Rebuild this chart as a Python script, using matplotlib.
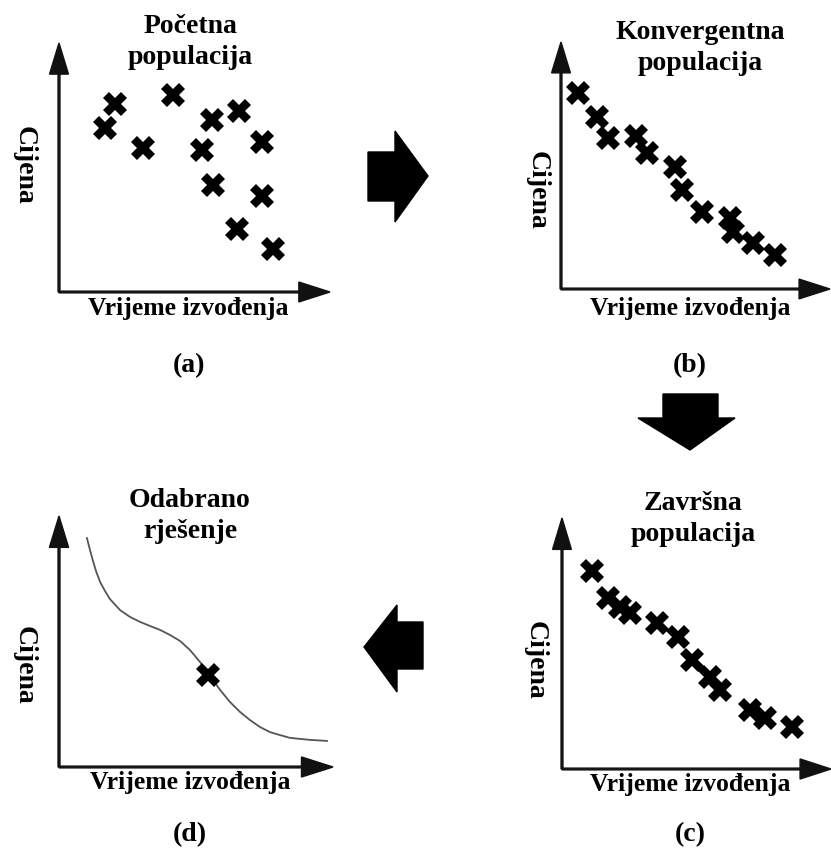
import matplotlib.pyplot as plt
from matplotlib.patches import Polygon

W, H = 831, 850

# (a) initial population
a_x = [2.07, 1.70, 4.21, 3.10, 5.65, 5.28, 5.68, 6.64, 7.49, 7.49, 6.57, 7.90]
a_y = [7.55, 6.59, 7.91, 5.78, 6.91, 5.70, 4.30, 7.27, 6.02, 3.86, 2.53, 1.73]

# (b) converging population
b_x = [0.63, 1.34, 1.75, 2.79, 3.20, 4.24, 4.50, 5.24, 6.28, 6.39, 7.14, 7.96]
b_y = [7.94, 6.96, 6.11, 6.19, 5.51, 4.94, 4.01, 3.12, 2.87, 2.31, 1.86, 1.38]

# (c) final population
c_x = [1.12, 1.71, 2.16, 2.53, 3.53, 4.31, 4.83, 5.50, 5.87, 6.99, 7.55, 8.55]
c_y = [7.89, 6.81, 6.45, 6.22, 5.82, 5.26, 4.34, 3.67, 3.15, 2.35, 2.03, 1.67]

# (d) pareto front and chosen solution
d_curve_x = [1.02, 1.13, 1.24, 1.35, 1.50, 1.68, 1.86, 2.23, 2.59, 2.96,
             3.32, 3.69, 4.05, 4.42, 4.78, 5.15, 5.51, 5.88, 6.24, 6.61,
             6.97, 7.34, 7.70, 8.07, 8.43, 8.80, 9.16, 9.78]
d_curve_y = [9.12, 8.65, 8.21, 7.81, 7.37, 7.01, 6.69, 6.25, 5.98, 5.78,
             5.62, 5.46, 5.26, 5.02, 4.66, 4.18, 3.63, 3.07, 2.59, 2.19,
             1.87, 1.59, 1.39, 1.27, 1.16, 1.12, 1.08, 1.04]
d_x = [5.44]
d_y = [3.67]

titles = ['Početna\npopulacija', 'Konvergentna\npopulacija',
          'Završna\npopulacija', 'Odabrano\nrješenje']
labels = ['(a)', '(b)', '(c)', '(d)']
xlabel = 'Vrijeme izvođenja'
ylabel = 'Cijena'

plt.rcParams['font.family'] = ['Liberation Serif', 'DejaVu Serif']
plt.rcParams['font.weight'] = 'bold'

fig = plt.figure(figsize=(W / 100, H / 100), dpi=100)


def fx(x):
    return x / W


def fy(y):
    return 1 - y / H


def panel(origin, xtip, ytip):
    # axes box in pixel coords: data 0..10 spans the axis arrows
    x0, y0 = origin
    ax = fig.add_axes([fx(x0), fy(y0), (xtip - x0) / W, (y0 - ytip) / H])
    ax.set_xlim(0, 10)
    ax.set_ylim(0, 10)
    ax.axis('off')
    ax.arrow(0, 0, 10, 0, width=0.07, head_width=0.8, head_length=1.15,
             length_includes_head=True, color='#111111', clip_on=False)
    ax.arrow(0, 0, 0, 10, width=0.07, head_width=0.7, head_length=1.25,
             length_includes_head=True, color='#111111', clip_on=False)
    return ax


def texts(title_xy, xl_xy, yl_xy, lab_xy, title, lab):
    fig.text(fx(title_xy[0]), fy(title_xy[1]), title, ha='center',
             va='center', fontsize=20, fontweight='bold', linespacing=1.3)
    fig.text(fx(xl_xy[0]), fy(xl_xy[1]), xlabel, ha='center', va='center',
             fontsize=18.5, fontweight='bold')
    fig.text(fx(yl_xy[0]), fy(yl_xy[1]), ylabel, ha='center', va='center',
             fontsize=20, fontweight='bold', rotation=-90)
    fig.text(fx(lab_xy[0]), fy(lab_xy[1]), lab, ha='center', va='center',
             fontsize=20, fontweight='bold')


mk = dict(marker='X', markersize=17, color='black', linestyle='none',
          markeredgewidth=0, clip_on=False)

ax = panel((59, 292), 330, 43)
ax.plot(a_x, a_y, **mk)
texts((190, 42), (188, 309), (24, 165), (189, 366), titles[0], labels[0])

ax = panel((561, 289), 830, 42)
ax.plot(b_x, b_y, **mk)
texts((700, 48), (690, 308), (537, 190), (690, 366), titles[1], labels[1])

ax = panel((562, 769), 831, 518)
ax.plot(c_x, c_y, **mk)
texts((693, 519), (690, 785), (535, 660), (690, 835), titles[2], labels[2])

ax = panel((59, 767), 333, 516)
ax.plot(d_curve_x, d_curve_y, color='#555555', lw=1.3, clip_on=False)
ax.plot(d_x, d_y, **mk)
texts((190, 516), (190, 783), (24, 665), (190, 835), titles[3], labels[3])

# big flow arrows between panels (pixel outlines)
arrows = [
    [(368, 152), (395, 152), (395, 131), (428, 176), (395, 222),
     (395, 201), (368, 201)],
    [(663, 394), (718, 394), (718, 418), (735, 418), (690, 450),
     (638, 418), (663, 418)],
    [(423, 622), (397, 622), (397, 605), (364, 647), (397, 692),
     (397, 669), (423, 669)],
]
for pts in arrows:
    fig.patches.append(Polygon([(fx(x), fy(y)) for x, y in pts],
                               closed=True, color='black',
                               transform=fig.transFigure))

fig.savefig('out.png', dpi=100)
